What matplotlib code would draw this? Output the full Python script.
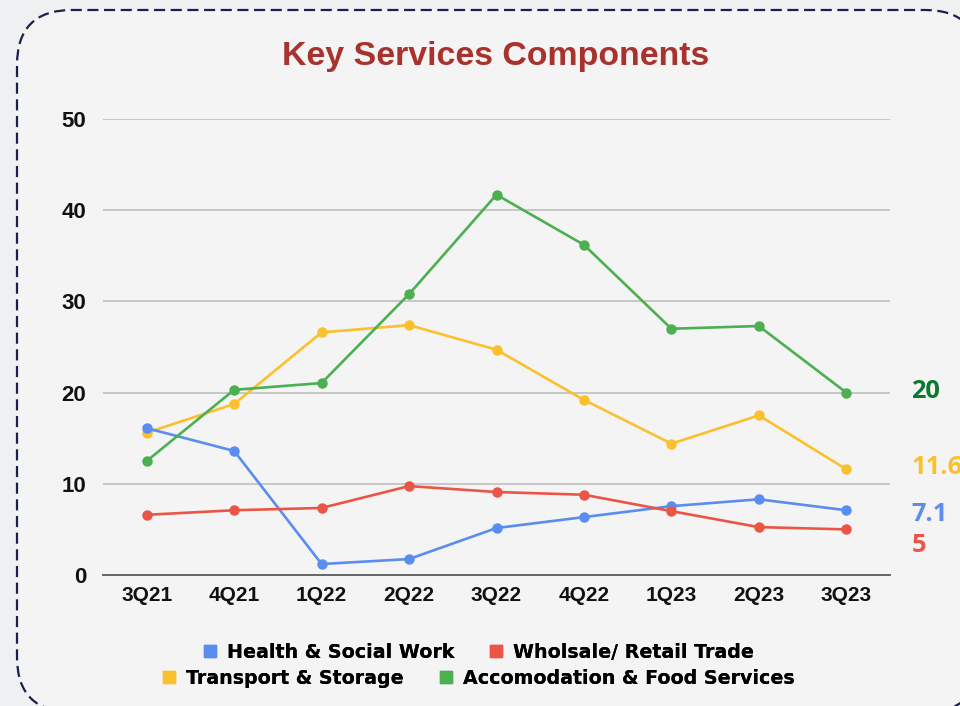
import matplotlib
matplotlib.use("Agg")
import matplotlib.pyplot as plt
from matplotlib.patches import FancyBboxPatch
from matplotlib.lines import Line2D

plt.rcParams['font.family'] = ['Liberation Sans', 'DejaVu Sans']

categories = ["3Q21", "4Q21", "1Q22", "2Q22", "3Q22", "4Q22", "1Q23", "2Q23", "3Q23"]
health = [16.1, 13.6, 1.2, 1.75, 5.15, 6.35, 7.55, 8.3, 7.1]
wholesale = [6.6, 7.1, 7.35, 9.75, 9.1, 8.8, 7.0, 5.25, 5.0]
transport = [15.6, 18.75, 26.6, 27.4, 24.7, 19.2, 14.4, 17.5, 11.6]
accom = [12.5, 20.3, 21.05, 30.8, 41.7, 36.2, 27.0, 27.3, 20.0]
yticks = [0, 10, 20, 30, 40, 50]

names = ["Health & Social Work", "Wholsale/ Retail Trade",
         "Transport & Storage", "Accomodation & Food Services"]
colors = ["#5B8DEF", "#EA5545", "#FBC02D", "#4CAF50"]
label_colors = ["#5B8DEF", "#EA5545", "#FBC02D", "#0B7A2E"]
end_labels = ["7.1", "5", "11.6", "20"]
label_dy = [4, 16, -2, -1]  # pixel offsets (down) of end labels

fig = plt.figure(figsize=(9.6, 7.06), dpi=100)
fig.patch.set_facecolor("#EEF1F2")

box = FancyBboxPatch((17, -6), 963, 702, boxstyle="round,pad=0,rounding_size=55",
                     transform=None, facecolor="#F4F4F4", edgecolor="#1B1F4B",
                     linewidth=1.6, linestyle=(0, (5, 2.5)), zorder=-10)
fig.patches.append(box)

ax = fig.add_axes([103/960, 131/706, 787/960, 456/706])
ax.set_zorder(2)
ax.set_facecolor("none")
x = list(range(len(categories)))
series = [health, wholesale, transport, accom]
order = [2, 0, 1, 3]
for i in order:
    ax.plot(x, series[i], color=colors[i], lw=1.9, marker="o", ms=6.5,
            zorder=3, clip_on=False)

for i in range(4):
    ax.annotate(end_labels[i], xy=(x[-1], series[i][-1]),
                xytext=(65*0.72, -label_dy[i]*0.72), textcoords="offset points",
                ha="left", va="center", fontsize=18.3, fontweight="bold",
                family="Open Sans", color=label_colors[i], annotation_clip=False)

ax.set_xlim(-0.5, len(categories) - 0.5)
ax.set_ylim(0, 50)
ax.set_yticks(yticks)
ax.set_xticks(x)
ax.set_xticklabels(categories)
ax.grid(axis="y", color="#BBBBBB", lw=1.1)
ax.set_axisbelow(True)
for s in ["top", "right", "left"]:
    ax.spines[s].set_visible(False)
ax.spines["bottom"].set_color("#666666")
ax.spines["bottom"].set_linewidth(1.4)
ax.tick_params(axis="x", length=0, labelsize=15, colors="#111111", pad=8)
ax.tick_params(axis="y", length=0, labelsize=16, colors="#111111", pad=12)
for lab in ax.get_xticklabels() + ax.get_yticklabels():
    lab.set_fontweight("bold")

fig.text(496/960, 1 - 57/706, "Key Services Components", ha="center", va="center",
         fontsize=24.4, fontweight="bold", color="#A8322D")

def handle(c):
    return Line2D([], [], marker="s", ls="none", color=c, ms=8)

for row, yy in [((0, 1), 652), ((2, 3), 678)]:
    leg = fig.legend([handle(colors[i]) for i in row], [names[i] for i in row],
                     loc="center", bbox_to_anchor=(479/960, 1 - yy/706), ncol=2,
                     frameon=False, handlelength=0.6, handletextpad=0.6,
                     columnspacing=1.9, borderpad=0,
                     prop={"weight": "bold", "size": 13.7, "family": "DejaVu Sans"})
    fig.add_artist(leg)

fig.savefig("out.png", dpi=100, facecolor=fig.get_facecolor())
